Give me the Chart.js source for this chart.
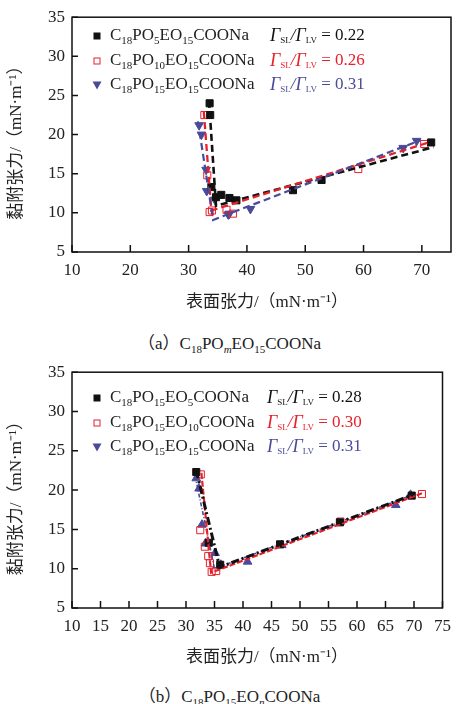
<!DOCTYPE html>
<html>
<head>
<meta charset="utf-8">
<script src="https://cdn.jsdelivr.net/npm/chart.js@4.4.0/dist/chart.umd.min.js"></script>
<style>
  body { margin: 0; background: #fff; }
  #page { position: relative; width: 459px; height: 704px; }
  .box { position: absolute; left: 0; width: 459px; }
  .cap { position: absolute; left: 0; width: 459px; text-align: center; font-family: "Liberation Serif", "Noto Sans CJK SC", serif; font-size: 17px; color: #222; }
  .cap sub { font-size: 11px; }
</style>
</head>
<body>
<div id="page">
  <div class="box" style="top:0;height:320px"><canvas id="chartA"></canvas></div>
  <div class="cap" style="top:329px">（a）C<sub>18</sub>PO<sub><i>m</i></sub>EO<sub>15</sub>COONa</div>
  <div class="box" style="top:355px;height:321px"><canvas id="chartB"></canvas></div>
  <div class="cap" style="top:682px">（b）C<sub>18</sub>PO<sub>15</sub>EO<sub><i>n</i></sub>COONa</div>
</div>
<script>
// tick labels
const yTicks = [5, 10, 15, 20, 25, 30, 35]
const xTicksA = [10, 20, 30, 40, 50, 60, 70]
const xTicksB = [10, 15, 20, 25, 30, 35, 40, 45, 50, 55, 60, 65, 70, 75]

const xTitle = "表面张力/（mN·m⁻¹）"
const yTitle = "黏附张力/（mN·m⁻¹）"

// (a) C18POmEO15COONa
const namesA = ["C18PO5EO15COONa", "C18PO10EO15COONa", "C18PO15EO15COONa"]
const ratiosA = ["0.22", "0.26", "0.31"]

const aBlackX = [33.6, 33.7, 33.9, 34.7, 35.6, 37.0, 38.2, 47.9, 52.8, 71.6]
const aBlackY = [24.0, 22.5, 13.3, 12.0, 12.3, 11.9, 11.6, 12.9, 14.2, 19.0]
const aRedX = [32.7, 33.2, 33.6, 34.0, 36.5, 37.6, 59.1, 70.4]
const aRedY = [22.5, 14.8, 10.1, 10.3, 10.4, 9.9, 15.6, 18.8]
const aBlueX = [31.8, 32.2, 33.0, 33.1, 34.5, 36.8, 37.0, 40.6, 66.8, 69.1]
const aBlueY = [21.2, 20.0, 15.5, 12.8, 11.7, 9.8, 9.9, 10.5, 18.3, 19.2]

// fitted lines (a)
const aBlackFitX = [33.5, 34.7, 72.0]
const aBlackFitY = [24.3, 10.9, 18.4]
const aRedFitX = [32.6, 33.9, 71.2]
const aRedFitY = [23.0, 10.3, 19.0]
const aBlueFitX = [31.6, 34.2, 69.8]
const aBlueFitY = [21.7, 9.1, 19.3]

// (b) C18PO15EOnCOONa
const namesB = ["C18PO15EO5COONa", "C18PO15EO10COONa", "C18PO15EO15COONa"]
const ratiosB = ["0.28", "0.30", "0.31"]

const bBlackX = [31.8, 34.0, 36.0, 46.5, 57.0, 69.6]
const bBlackY = [22.3, 13.3, 10.5, 13.1, 15.9, 19.3]
const bRedX = [32.6, 32.5, 33.3, 33.9, 34.2, 34.5, 35.3, 57.1, 71.4]
const bRedY = [22.0, 14.9, 12.8, 11.6, 10.7, 9.6, 9.7, 16.0, 19.5]
const bBlueX = [31.8, 32.3, 32.8, 33.4, 35.1, 36.1, 40.8, 46.8, 66.8, 69.4]
const bBlueY = [21.5, 20.2, 15.6, 13.2, 12.0, 10.5, 10.9, 13.0, 18.1, 19.4]

// fitted lines (b)
const bBlackFitX = [31.8, 35.9, 69.8]
const bBlackFitY = [22.5, 10.2, 19.4]
const bRedFitX = [32.7, 34.4, 71.4]
const bRedFitY = [22.2, 9.5, 19.6]
const bBlueFitX = [31.6, 35.0, 69.8]
const bBlueFitY = [21.8, 10.0, 19.4]

const BLACK = "#111111"
const RED = "#e8202a"
const BLUE = "#4a4a9a"
const FONT = '"Liberation Serif", "Noto Sans CJK SC", serif'

const pts = (xs, ys) => xs.map((x, i) => ({ x: x, y: ys[i] }))

// text with digits drawn as subscripts
function drawSubText(ctx, text, x, y) {
  let cx = x
  for (const ch of text) {
    const sub = /[0-9]/.test(ch)
    ctx.font = sub ? `11px ${FONT}` : `17px ${FONT}`
    ctx.fillText(ch, cx, sub ? y + 5 : y)
    cx += ctx.measureText(ch).width
  }
}

function drawRatio(ctx, ratio, x, y) {
  let cx = x
  const part = (t, font, dy) => {
    ctx.font = font
    ctx.fillText(t, cx, y + dy)
    cx += ctx.measureText(t).width
  }
  part("Γ", `italic 18px ${FONT}`, 0)
  part("SL", `9px ${FONT}`, 5)
  part("/", `italic 17px ${FONT}`, 0)
  part("Γ", `italic 18px ${FONT}`, 0)
  part("LV", `9px ${FONT}`, 5)
  part(" = " + ratio, `17px ${FONT}`, 0)
}

function drawMarker(ctx, kind, color, x, y) {
  ctx.save()
  ctx.fillStyle = color
  ctx.strokeStyle = color
  ctx.lineWidth = 1
  if (kind === "fill") ctx.fillRect(x - 3.5, y - 3.5, 7, 7)
  else if (kind === "open") ctx.strokeRect(x - 3, y - 3, 6, 6)
  else {
    ctx.beginPath()
    ctx.moveTo(x - 4.5, y - 3.5)
    ctx.lineTo(x + 4.5, y - 3.5)
    ctx.lineTo(x, y + 4.5)
    ctx.closePath()
    ctx.fill()
  }
  ctx.restore()
}

const decor = {
  id: "decor",
  afterDraw(chart) {
    const opt = chart.options.plugins.decor
    const { ctx, chartArea: a, scales } = chart
    ctx.save()
    ctx.strokeStyle = BLACK
    ctx.lineWidth = 1.5
    ctx.strokeRect(a.left, a.top, a.right - a.left, a.bottom - a.top)
    ctx.beginPath()
    scales.x.ticks.forEach(t => {
      const px = scales.x.getPixelForValue(t.value)
      ctx.moveTo(px, a.bottom)
      ctx.lineTo(px, a.bottom - 7)
    })
    scales.y.ticks.forEach(t => {
      const py = scales.y.getPixelForValue(t.value)
      ctx.moveTo(a.left, py)
      ctx.lineTo(a.left + 6, py)
    })
    ctx.stroke()

    // axis titles
    ctx.fillStyle = "#222"
    ctx.textAlign = "center"
    ctx.textBaseline = "middle"
    ctx.font = `17px ${FONT}`
    ctx.fillText(xTitle, 267, 303)
    ctx.save()
    ctx.translate(17, (a.top + a.bottom) / 2 + 4)
    ctx.rotate(-Math.PI / 2)
    ctx.fillText(yTitle, 0, 0)
    ctx.restore()

    // legend
    ctx.textAlign = "left"
    const kinds = ["fill", "open", "tri"]
    const colors = [BLACK, RED, BLUE]
    opt.names.forEach((n, i) => {
      const y = opt.rows[i]
      drawMarker(ctx, kinds[i], colors[i], 97, y)
      ctx.fillStyle = "#222"
      drawSubText(ctx, n, 110, y)
      ctx.fillStyle = i === 0 ? BLACK : colors[i]
      drawRatio(ctx, opt.ratios[i], opt.rx, y)
    })
    ctx.restore()
  }
}

function pointSet(data, color, style, filled, rot) {
  return {
    data: data,
    showLine: false,
    pointStyle: style,
    pointRadius: style === "rect" ? 5 : 5,
    pointRotation: rot || 0,
    pointBackgroundColor: filled ? color : "rgba(0,0,0,0)",
    pointBorderColor: color,
    pointBorderWidth: 1,
    order: 10
  }
}

function lineSet(data, color, dash, width, order) {
  return {
    data: data,
    showLine: true,
    pointRadius: 0,
    borderColor: color,
    borderDash: dash,
    borderWidth: width,
    fill: false,
    order: order
  }
}

function makeChart(id, datasets, xTicks, legend) {
  return new Chart(document.getElementById(id), {
    type: "scatter",
    data: { datasets: datasets },
    options: {
      responsive: true,
      maintainAspectRatio: false,
      animation: false,
      layout: { padding: { top: 17, right: 8, left: 0, bottom: 0 } },
      plugins: { legend: { display: false }, tooltip: { enabled: false }, decor: legend },
      scales: {
        x: {
          type: "linear", min: 10, max: 75,
          afterBuildTicks: s => { s.ticks = xTicks.map(v => ({ value: v })) },
          afterFit: s => { s.height = 68 },
          grid: { display: false, drawTicks: false },
          border: { display: false },
          ticks: { padding: 8, color: "#222", font: { family: FONT, size: 17 }, maxRotation: 0, autoSkip: false }
        },
        y: {
          type: "linear", min: 5, max: 35,
          afterBuildTicks: s => { s.ticks = yTicks.map(v => ({ value: v })) },
          afterFit: s => { s.width = 72 },
          grid: { display: false, drawTicks: false },
          border: { display: false },
          ticks: { padding: 7, color: "#222", font: { family: FONT, size: 17 } }
        }
      }
    },
    plugins: [decor]
  })
}

makeChart("chartA", [
  pointSet(pts(aBlackX, aBlackY), BLACK, "rect", true),
  pointSet(pts(aRedX, aRedY), RED, "rect", false),
  pointSet(pts(aBlueX, aBlueY), BLUE, "triangle", true, 180),
  lineSet(pts(aBlackFitX, aBlackFitY), BLACK, [7, 4], 2.6, 3),
  lineSet(pts(aRedFitX, aRedFitY), RED, [7, 4], 2.3, 2),
  lineSet(pts(aBlueFitX, aBlueFitY), BLUE, [7, 4], 2.2, 1)
], xTicksA, { names: namesA, ratios: ratiosA, rows: [36, 61, 85], rx: 270 })

makeChart("chartB", [
  pointSet(pts(bBlackX, bBlackY), BLACK, "rect", true),
  pointSet(pts(bRedX, bRedY), RED, "rect", false),
  pointSet(pts(bBlueX, bBlueY), BLUE, "triangle", true),
  lineSet(pts(bBlueFitX, bBlueFitY), BLUE, [4, 2, 1, 2], 1.6, 3),
  lineSet(pts(bRedFitX, bRedFitY), RED, [6, 2], 2.2, 2),
  lineSet(pts(bBlackFitX, bBlackFitY), BLACK, [8, 3, 2, 3], 3, 1)
], xTicksB, { names: namesB, ratios: ratiosB, rows: [43, 68, 92], rx: 267 })
</script>
</body>
</html>
